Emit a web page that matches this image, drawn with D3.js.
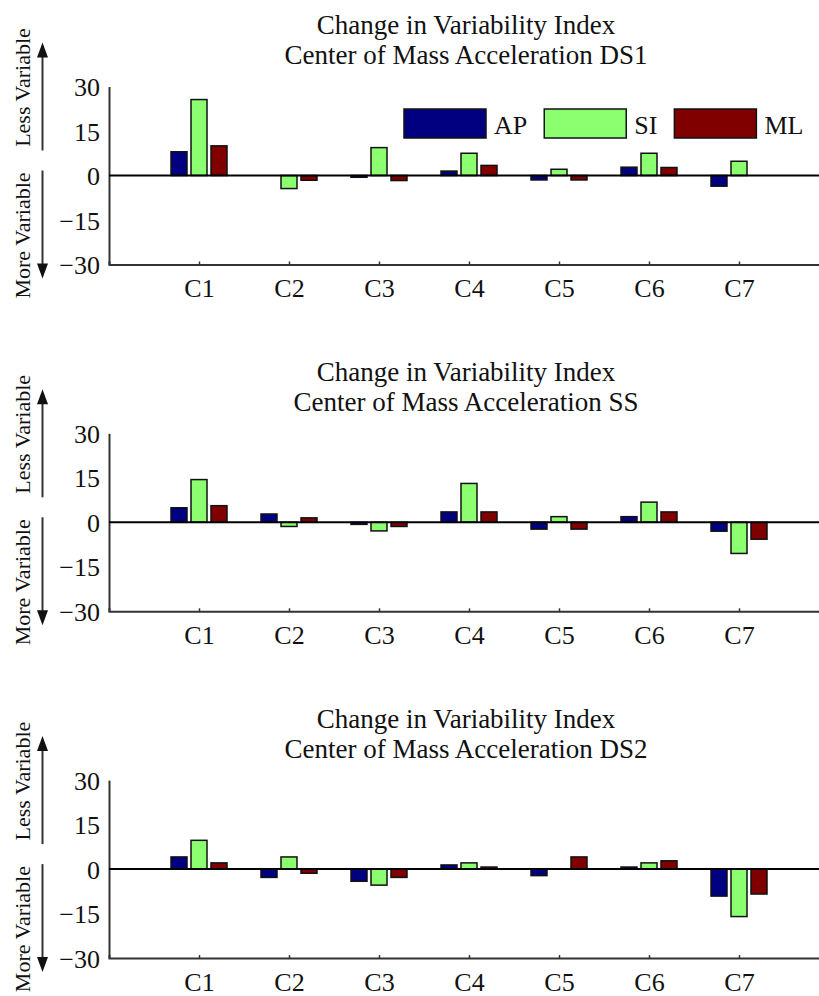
<!DOCTYPE html>
<html>
<head>
<meta charset="utf-8">
<script src="https://cdn.jsdelivr.net/npm/d3@7"></script>
<style>
  html, body { margin: 0; padding: 0; background: #fff; }
  svg { display: block; }
  svg text { font-family: "Liberation Serif", "Times New Roman", serif !important; }
</style>
</head>
<body>
<svg id="chart" width="819" height="996"></svg>
<script>
// ---- data ----
const categories = ["C1", "C2", "C3", "C4", "C5", "C6", "C7"];
const series = ["AP", "SI", "ML"];
const seriesColors = ["#000080", "#8cff70", "#800000"];
const yTicks = [30, 15, 0, -15, -30];
const titleLine1 = "Change in Variability Index";
const panelTitles = ["Center of Mass Acceleration DS1", "Center of Mass Acceleration SS", "Center of Mass Acceleration DS2"];

const ds1AP = [8.0, 0, -0.6, 1.5, -1.5, 2.8, -3.6];
const ds1SI = [25.6, -4.4, 9.4, 7.5, 2.1, 7.5, 4.8];
const ds1ML = [10.0, -1.6, -1.7, 3.4, -1.5, 2.7, 0];

const ssAP = [4.9, 2.8, -0.7, 3.5, -2.3, 1.9, -3.0];
const ssSI = [14.4, -1.4, -2.9, 13.1, 1.9, 6.8, -10.5];
const ssML = [5.6, 1.5, -1.4, 3.5, -2.3, 3.5, -5.7];

const ds2AP = [4.1, -2.8, -4.1, 1.4, -2.2, 0.7, -9.1];
const ds2SI = [9.7, 4.1, -5.4, 2.1, 0, 2.1, -16.0];
const ds2ML = [2.1, -1.4, -2.8, 0.7, 4.1, 2.8, -8.4];

const panels = [
  [ds1AP, ds1SI, ds1ML],
  [ssAP, ssSI, ssML],
  [ds2AP, ds2SI, ds2ML]
];

// ---- layout ----
const svg = d3.select("#chart");
const W = 819;
const plotLeft = 109;
const panelStep = 346.8;
const topY = 86.5, botY = 264.5;

const x = d3.scaleLinear().domain([0, categories.length + 1]).range([plotLeft, plotLeft + 720]);
const xs = d3.scaleBand().domain(series).range([-30, 30]).paddingInner(0.2).paddingOuter(0.1);
const color = d3.scaleOrdinal().domain(series).range(seriesColors);

panels.forEach((vals, p) => {
  const off = p * panelStep;
  const g = svg.append("g").attr("transform", `translate(0,${off})`);
  const y = d3.scaleLinear().domain([-30, 30]).range([botY, topY]);
  const zero = y(0);

  // titles
  g.append("text").attr("x", 466).attr("y", zero - 141.5)
    .attr("text-anchor", "middle").attr("font-size", 27).attr("fill", "#111").text(titleLine1);
  g.append("text").attr("x", 466).attr("y", zero - 111.5)
    .attr("text-anchor", "middle").attr("font-size", 27).attr("fill", "#111").text(panelTitles[p]);

  // y axis (no ticks)
  const yAxis = d3.axisLeft(y).tickValues(yTicks).tickSize(0).tickPadding(9).tickFormat(d3.format("d"));
  const ya = g.append("g").attr("transform", `translate(${plotLeft},0)`).call(yAxis);
  ya.select(".domain").attr("stroke", "#333").attr("stroke-width", 2);
  ya.selectAll("text").attr("font-size", 26).attr("fill", "#111").attr("dy", "0.35em");

  // x axis at bottom
  const xAxis = d3.axisBottom(x).tickValues(d3.range(1, categories.length + 1))
    .tickSize(-3).tickPadding(14).tickFormat(d => categories[d - 1]);
  const xa = g.append("g").attr("transform", `translate(0,${botY})`).call(xAxis);
  xa.select(".domain").attr("stroke", "#333").attr("stroke-width", 2);
  xa.selectAll(".tick line").attr("stroke", "#333").attr("stroke-width", 1.5);
  xa.selectAll("text").attr("font-size", 26).attr("fill", "#111");

  // bars
  series.forEach((s, si) => {
    g.append("g").selectAll("rect").data(vals[si]).join("rect")
      .attr("x", (d, i) => x(i + 1) + xs(s))
      .attr("width", xs.bandwidth())
      .attr("y", d => Math.min(y(d), zero))
      .attr("height", d => Math.abs(y(d) - zero))
      .attr("fill", color(s))
      .attr("stroke", "#111")
      .attr("stroke-width", 1.5);
  });

  // zero line
  g.append("line").attr("x1", plotLeft).attr("x2", W).attr("y1", zero).attr("y2", zero)
    .attr("stroke", "#000").attr("stroke-width", 2);

  // side arrows and labels
  const ax = 42.5;
  g.append("line").attr("x1", ax).attr("x2", ax).attr("y1", zero - 25).attr("y2", zero - 122)
    .attr("stroke", "#333").attr("stroke-width", 2);
  g.append("path").attr("d", `M${ax},${zero - 133} L${ax - 5.5},${zero - 118} L${ax + 5.5},${zero - 118} Z`)
    .attr("fill", "#111");
  g.append("line").attr("x1", ax).attr("x2", ax).attr("y1", zero - 5).attr("y2", zero + 92)
    .attr("stroke", "#333").attr("stroke-width", 2);
  g.append("path").attr("d", `M${ax},${zero + 103} L${ax - 5.5},${zero + 88} L${ax + 5.5},${zero + 88} Z`)
    .attr("fill", "#111");

  g.append("text").attr("transform", `translate(22,${zero - 88}) rotate(-90)`)
    .attr("text-anchor", "middle").attr("dominant-baseline", "central")
    .attr("font-size", 22).attr("fill", "#111").text("Less Variable");
  g.append("text").attr("transform", `translate(22,${zero + 60}) rotate(-90)`)
    .attr("text-anchor", "middle").attr("dominant-baseline", "central")
    .attr("font-size", 22).attr("fill", "#111").text("More Variable");

  // legend only in first panel
  if (p === 0) {
    const lg = g.append("g");
    let lx = 404;
    series.forEach((s) => {
      lg.append("rect").attr("x", lx).attr("y", 109).attr("width", 82).attr("height", 29)
        .attr("fill", color(s)).attr("stroke", "#111").attr("stroke-width", 1.5);
      const t = lg.append("text").attr("x", lx + 90).attr("y", 134)
        .attr("font-size", 26).attr("fill", "#111").text(s);
      const tw = t.node().getComputedTextLength();
      lx = lx + 90 + tw + 17;
    });
  }
});
</script>
</body>
</html>
